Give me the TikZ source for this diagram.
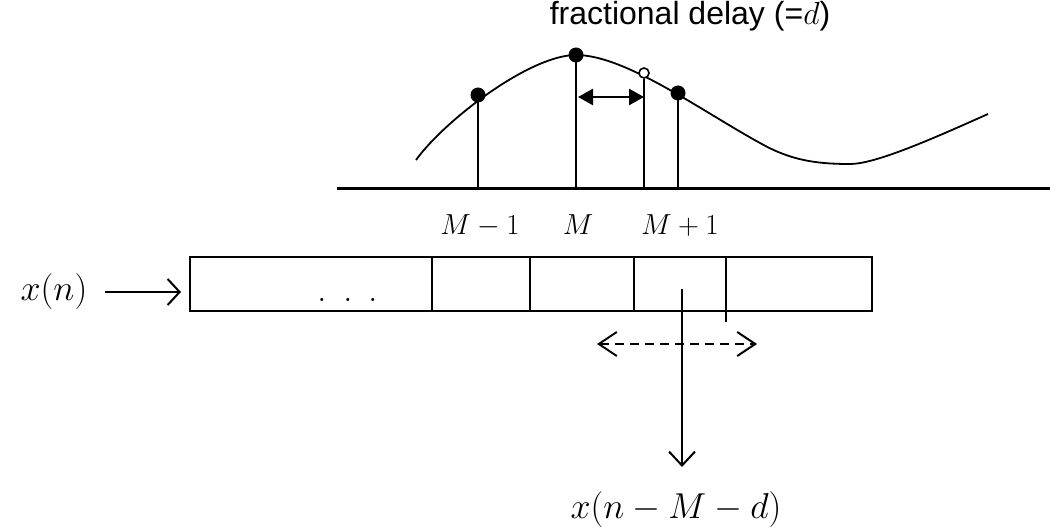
\RequirePackage{fix-cm}
\documentclass[tikz,border=0pt]{standalone}
\usepackage{fontspec}
\newfontfamily\titlefont{Liberation Sans}
\usetikzlibrary{positioning, arrows.meta}

\begin{document}
\begin{tikzpicture}[
    x=1pt, y=-1pt,
    cell/.style={rectangle, draw, line width=2.2pt, minimum height=54pt, inner sep=0pt, outer sep=0pt},
    sample/.style={circle, fill, inner sep=0pt, minimum size=15pt},
    frac/.style={circle, draw, fill=white, line width=1.6pt, inner sep=0pt, minimum size=10pt},
    stem/.style={line width=2pt},
    lbl/.style={anchor=base, font=\fontsize{29}{34}\selectfont},
    sig/.style={anchor=base, inner sep=0pt, font=\fontsize{36}{42}\selectfont},
]
\useasboundingbox (0,0) rectangle (1050,529);

\node[anchor=base, font=\titlefont\fontsize{32}{38}\selectfont] (title) at (690,25) {fractional delay (=$d$)};

% signal and its samples
\coordinate (axL) at (337,189);
\coordinate (axR) at (1050,189);
\draw[line width=3pt] (axL) -- (axR);

\draw[line width=1.8pt] (416,160) .. controls (445,120) and (530,55) .. (576,55)
    .. controls (625,55) and (700,110) .. (760,143)
    .. controls (790,160) and (815,164) .. (850,164)
    .. controls (875,164) and (930,140) .. (988,114);

\node[sample] (s1) at (478,95) {};
\node[sample] (s2) at (576,55) {};
\node[sample] (s3) at (678,93) {};
\node[frac] (sd) at (644,73) {};

\draw[stem] (s1.center) -- (s1.center |- axL);
\draw[stem] (s2.center) -- (s2.center |- axL);
\draw[stem] (s3.center) -- (s3.center |- axL);
\draw[stem] (sd.south) -- (sd.south |- axL);

\coordinate (dl) at (578,97);
\draw[{Triangle[length=15pt, width=16pt]}-{Triangle[length=15pt, width=16pt]}, line width=2.5pt] (dl) -- (dl -| sd.south);

\node[lbl] (lm1) at (480,235) {$M-1$};
\node[lbl] (lm) at (578,235) {$M$};
\node[lbl] (lp1) at (680,235) {$M+1$};

% delay line buffer
\node[cell, minimum width=242pt] (c0) at (311,284) {};
\node[cell, minimum width=98pt] (c1) at (481,284) {};
\node[cell, minimum width=104pt] (c2) at (582,284) {};
\node[cell, minimum width=92pt] (c3) at (680,284) {};
\node[cell, minimum width=146pt] (c4) at (799,284) {};
\node[anchor=base, font=\fontsize{38}{44}\selectfont] (dots) at (348,302) {.\hspace{16pt}.\hspace{16pt}.};
\draw[line width=2.2pt] (c4.south west) -- ++(0,11);

\node[sig] (xin) at (54,301) {$x(n)$};
\draw[-{Straight Barb[length=12pt, width=26pt]}, line width=2pt, shorten <=18pt, shorten >=9pt] (xin.east) -- (xin.east -| c0.west);

% fractional tap
\coordinate (tap) at (682,289);
\coordinate (tapend) at (682,467);
\draw[-{Straight Barb[length=14pt, width=26pt]}, line width=2pt] (tap) -- (tapend);
\node[sig] (xout) at (676,518) {$x(n-M-d)$};

\coordinate (shL) at (597,344);
\coordinate (shR) at (757,344);
\draw[{Straight Barb[length=18pt, width=24pt]}-{Straight Barb[length=18pt, width=24pt]}, dashed, dash pattern=on 9pt off 6pt, line width=2pt] (shL) -- (shR);

\end{tikzpicture}
\end{document}
